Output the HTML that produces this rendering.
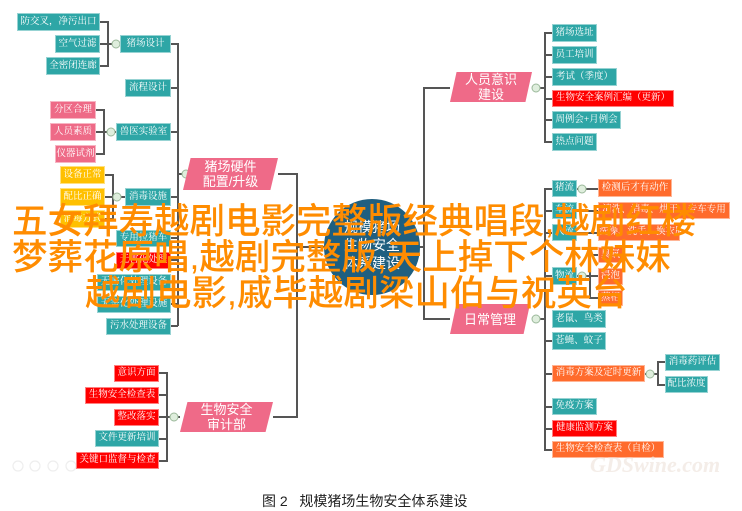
<!DOCTYPE html>
<html><head><meta charset="utf-8">
<style>
body{margin:0;width:742px;height:511px;background:#fff;position:relative;overflow:hidden;font-family:"Liberation Serif","Noto Serif CJK SC",serif;}
.b{position:absolute;color:#fff;font-size:9.5px;text-align:center;white-space:nowrap;overflow:hidden;box-sizing:border-box;border:1px solid rgba(255,255,255,.5);}
.t{background:#2ea6a6}.p{background:#ee6a87}.r{background:#ff0000}.o{background:#ff6b2c}.y{background:#ffc000}
.pg{position:absolute;background:#ef6a88;color:#fff;font-family:"Liberation Sans","Noto Sans CJK SC",sans-serif;font-size:13px;text-align:center;clip-path:polygon(8% 0,100% 0,92% 100%,0 100%);display:flex;align-items:center;justify-content:center;line-height:15px;}
.ov{position:absolute;color:#ff8c00;font-family:"Liberation Sans","Noto Sans CJK SC",sans-serif;font-size:35.5px;line-height:36px;white-space:nowrap;font-weight:500;}
svg{position:absolute;left:0;top:0}
</style></head><body>
<svg width="742" height="511">
<g stroke="#555" stroke-width="2" fill="none">
<path d="M100 22H108V66H100M100 44H120M171 44H178V326M171 88H178M171 132H178M171 197H178M171 238H178M171 260H178M171 282H178M171 304H178M171 326H178M178 174H186"/>
<path d="M96 110H104V154H96M96 132H116M105 175H113V219H105M105 197H125"/>
<path d="M278 174H297V417H273M297 247H325"/>
<path d="M159 373H167V461H159M159 395H167M159 417H180M159 439H167"/>
<path d="M419 247H424M450 88H424V319H450"/>
<path d="M536 88H545M552 33H545V142H552M545 55H552M545 77H552M545 99H552M545 120H552"/>
<path d="M536 319H545M552 189H545V450H552M545 211H552M545 233H552M545 276H552M545 341H552M545 374H552M545 407H552M545 429H552"/>
<path d="M577 189H598M577 211H598M577 233H598M577 276H590M598 255H590V298H598M590 276H598"/>
<path d="M645 374H658M665 362H658V385H665"/>
</g>
<g fill="#dfeedd" stroke="#9bb89a" stroke-width="1">
<circle cx="116" cy="44" r="4"/><circle cx="111" cy="132" r="4"/><circle cx="117" cy="197" r="4"/>
<circle cx="186" cy="174" r="4"/><circle cx="174" cy="417" r="4"/><circle cx="536" cy="88" r="4"/>
<circle cx="536" cy="319" r="4"/><circle cx="582" cy="189" r="4"/><circle cx="582" cy="276" r="4"/><circle cx="650" cy="374" r="4"/>
</g>
<circle cx="372" cy="247" r="48" fill="#1f5f80"/>
<text x="372" y="232" fill="#fff" font-size="14" text-anchor="middle" font-family="Noto Sans CJK SC">规模猪场</text>
<text x="372" y="250" fill="#fff" font-size="14" text-anchor="middle" font-family="Noto Sans CJK SC">生物安全</text>
<text x="372" y="268" fill="#fff" font-size="14" text-anchor="middle" font-family="Noto Sans CJK SC">体系建设</text>
<g fill="none" stroke="#eee" stroke-width="1.2">
<circle cx="18" cy="466" r="5"/><circle cx="35" cy="466" r="5"/><circle cx="53" cy="466" r="5"/><circle cx="71" cy="466" r="5"/>
</g>
</svg>

<div class="b t" style="left:17px;top:13px;width:83px;height:18px;line-height:16px">防交叉，净污出口</div>
<div class="b t" style="left:55px;top:35px;width:45px;height:18px;line-height:16px">空气过滤</div>
<div class="b t" style="left:46px;top:57px;width:54px;height:18px;line-height:16px">全密闭连廊</div>
<div class="b t" style="left:120px;top:35px;width:51px;height:18px;line-height:16px">猪场设计</div>
<div class="b t" style="left:125px;top:79px;width:46px;height:18px;line-height:16px">流程设计</div>
<div class="b p" style="left:50px;top:101px;width:46px;height:18px;line-height:16px">分区合理</div>
<div class="b p" style="left:50px;top:123px;width:46px;height:18px;line-height:16px">人员素质</div>
<div class="b p" style="left:55px;top:145px;width:41px;height:18px;line-height:16px">仪器试剂</div>
<div class="b t" style="left:116px;top:123px;width:55px;height:18px;line-height:16px">兽医实验室</div>
<div class="b y" style="left:60px;top:166px;width:45px;height:18px;line-height:16px">设备正常</div>
<div class="b y" style="left:60px;top:188px;width:45px;height:18px;line-height:16px">配比正确</div>
<div class="b y" style="left:60px;top:210px;width:45px;height:18px;line-height:16px">消毒方式</div>
<div class="b t" style="left:125px;top:188px;width:46px;height:18px;line-height:16px">消毒设施</div>
<div class="b t" style="left:116px;top:230px;width:55px;height:17px;line-height:15px">专用拉猪车</div>
<div class="b r" style="left:116px;top:252px;width:55px;height:17px;line-height:15px">无害化处理</div>
<div class="b t" style="left:97px;top:274px;width:74px;height:17px;line-height:15px">无害化处理设备</div>
<div class="b t" style="left:97px;top:296px;width:74px;height:17px;line-height:15px">无害化处理设施</div>
<div class="b t" style="left:106px;top:318px;width:65px;height:17px;line-height:15px">污水处理设备</div>
<div class="pg" style="left:183px;top:158px;width:95px;height:32px">猪场硬件<br>配置/升级</div>

<div class="b r" style="left:114px;top:365px;width:45px;height:17px;line-height:15px">意识方面</div>
<div class="b r" style="left:85px;top:387px;width:74px;height:17px;line-height:15px">生物安全检查表</div>
<div class="b r" style="left:114px;top:409px;width:45px;height:17px;line-height:15px">整改落实</div>
<div class="b t" style="left:95px;top:430px;width:64px;height:17px;line-height:15px">文件更新培训</div>
<div class="b r" style="left:76px;top:452px;width:83px;height:17px;line-height:15px">关键口监督与检查</div>
<div class="pg" style="left:180px;top:402px;width:93px;height:30px">生物安全<br>审计部</div>

<div class="pg" style="left:450px;top:72px;width:82px;height:30px">人员意识<br>建设</div>
<div class="b t" style="left:552px;top:24px;width:45px;height:18px;line-height:16px">猪场选址</div>
<div class="b t" style="left:552px;top:46px;width:45px;height:18px;line-height:16px">员工培训</div>
<div class="b t" style="left:552px;top:68px;width:65px;height:18px;line-height:16px">考试（季度）</div>
<div class="b r" style="left:552px;top:90px;width:122px;height:17px;line-height:15px">生物安全案例汇编（更新）</div>
<div class="b t" style="left:552px;top:111px;width:69px;height:18px;line-height:16px">周例会+月例会</div>
<div class="b t" style="left:552px;top:133px;width:45px;height:18px;line-height:16px">热点问题</div>

<div class="pg" style="left:450px;top:304px;width:80px;height:30px">日常管理</div>
<div class="b t" style="left:552px;top:180px;width:25px;height:17px;line-height:15px">猪流</div>
<div class="b o" style="left:598px;top:179px;width:74px;height:18px;line-height:16px">检测后才有动作</div>
<div class="b t" style="left:552px;top:202px;width:25px;height:17px;line-height:15px">车流</div>
<div class="b o" style="left:598px;top:202px;width:132px;height:17px;line-height:15px">清洗、消毒、烘干、专车专用</div>
<div class="b t" style="left:552px;top:224px;width:25px;height:17px;line-height:15px">人流</div>
<div class="b o" style="left:598px;top:224px;width:82px;height:17px;line-height:15px">洗澡、洗手、换衣服</div>
<div class="b o" style="left:598px;top:247px;width:25px;height:16px;line-height:14px">臭氧</div>
<div class="b t" style="left:552px;top:267px;width:25px;height:18px;line-height:16px">物流</div>
<div class="b o" style="left:598px;top:268px;width:25px;height:17px;line-height:15px">浸泡</div>
<div class="b o" style="left:598px;top:290px;width:25px;height:16px;line-height:14px">蒸柜</div>
<div class="b t" style="left:552px;top:310px;width:54px;height:18px;line-height:16px">老鼠、鸟类</div>
<div class="b t" style="left:552px;top:332px;width:54px;height:18px;line-height:16px">苍蝇、蚊子</div>
<div class="b o" style="left:552px;top:365px;width:93px;height:17px;line-height:15px">消毒方案及定时更新</div>
<div class="b t" style="left:665px;top:354px;width:55px;height:17px;line-height:15px">消毒药评估</div>
<div class="b t" style="left:665px;top:376px;width:43px;height:17px;line-height:15px">配比浓度</div>
<div class="b t" style="left:552px;top:398px;width:45px;height:17px;line-height:15px">免疫方案</div>
<div class="b r" style="left:552px;top:420px;width:65px;height:17px;line-height:15px">健康监测方案</div>
<div class="b o" style="left:552px;top:441px;width:112px;height:17px;line-height:15px">生物安全检查表（自检）</div>

<div style="position:absolute;left:590px;top:452px;color:rgba(240,230,222,.7);font-family:'Liberation Serif',serif;font-size:22px;font-weight:bold;font-style:italic">GDSwine.com</div>

<div style="position:absolute;left:262px;top:493px;font-family:'Liberation Sans','Noto Sans CJK SC',sans-serif;font-size:14px;line-height:16px;color:#222;white-space:nowrap">图 2&nbsp;&nbsp;&nbsp;规模猪场生物安全体系建设</div>

<div class="ov" style="left:12px;top:203px">五女拜寿越剧电影完整版经典唱段,越剧红楼</div>
<div class="ov" style="left:12px;top:239px">梦葬花原唱,越剧完整版,天上掉下个林妹妹</div>
<div class="ov" style="left:85px;top:275px">越剧电影,戚毕越剧梁山伯与祝英台</div>
</body></html>
